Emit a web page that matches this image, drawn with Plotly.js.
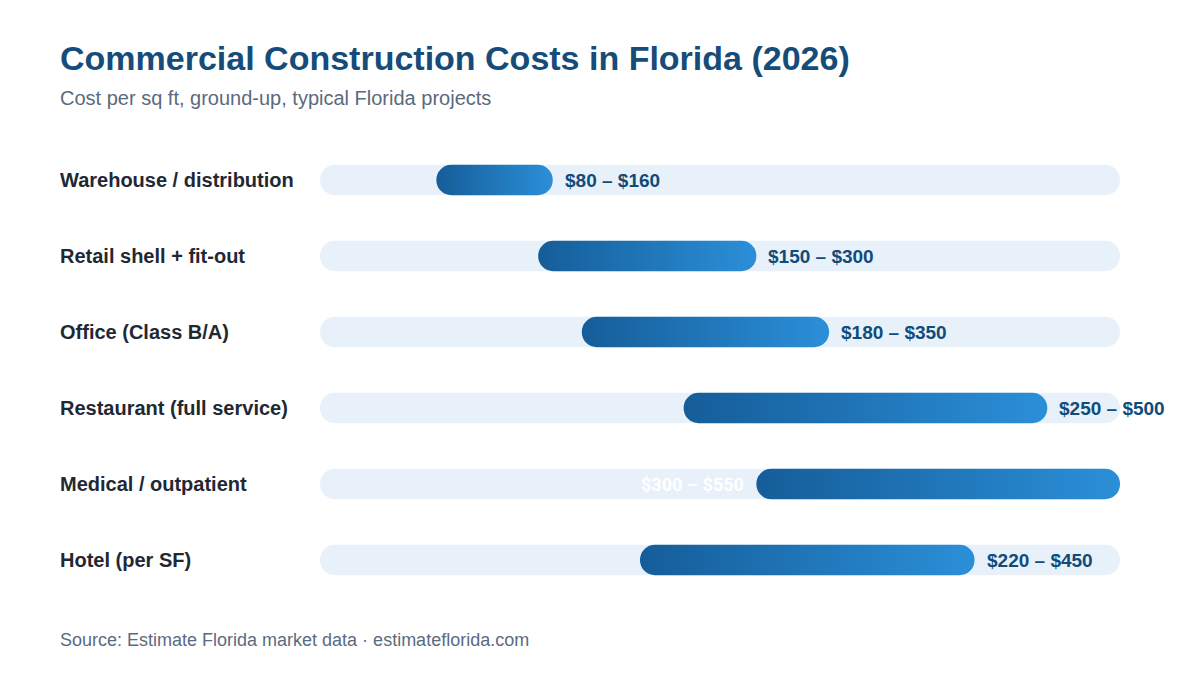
<!DOCTYPE html>
<html>
<head>
<meta charset="utf-8">
<script src="https://cdn.plot.ly/plotly-3.0.1.min.js"></script>
<style>
html,body{margin:0;padding:0;background:#fff;}
#chart{width:1200px;height:676px;}
</style>
</head>
<body>
<div id="chart"></div>
<script>
const categories = ["Warehouse / distribution","Retail shell + fit-out","Office (Class B/A)","Restaurant (full service)","Medical / outpatient","Hotel (per SF)"];
const lowCost = [80,150,180,250,300,220];
const highCost = [160,300,350,500,550,450];
const axisMax = 550;

const FONT = "Liberation Sans, Arial, Helvetica, sans-serif";
const LEFTX = -0.3275;

const track = {
  type:'bar', orientation:'h', y:categories, x:categories.map(()=>axisMax), base:categories.map(()=>0),
  marker:{color:'#e8f1fa'}, width:0.4, hoverinfo:'skip', showlegend:false
};
const bars = {
  type:'bar', orientation:'h', y:categories,
  x:highCost.map((h,i)=>h-lowCost[i]), base:lowCost,
  marker:{color:'#2277bb'}, width:0.4, hoverinfo:'skip', showlegend:false
};

const annotations = [];
categories.forEach((c,i)=>{
  annotations.push({xref:'paper', yref:'y', x:LEFTX, y:c, xanchor:'left', yanchor:'middle', showarrow:false,
    text:'<b>'+c+'</b>', font:{family:FONT, size:20, color:'#1f2933'}});
  const label = '$'+lowCost[i]+' – $'+highCost[i];
  if (highCost[i] >= axisMax) {
    annotations.push({xref:'x', yref:'y', x:lowCost[i], y:c, xanchor:'right', yanchor:'middle', xshift:-10, showarrow:false,
      text:'<b>'+label+'</b>', font:{family:'Roboto, '+FONT, size:18, color:'#ffffff'}});
  } else {
    annotations.push({xref:'x', yref:'y', x:highCost[i], y:c, xanchor:'left', yanchor:'middle', xshift:10, showarrow:false,
      text:'<b>'+label+'</b>', font:{family:FONT, size:19, color:'#0f4c7a'}});
  }
});
annotations.push({xref:'paper', yref:'paper', x:LEFTX, y:(598-98)/456, xanchor:'left', yanchor:'middle', showarrow:false,
  text:'Cost per sq ft, ground-up, typical Florida projects', font:{family:FONT, size:20, color:'#5a6a7e'}});
annotations.push({xref:'paper', yref:'paper', x:LEFTX, y:-(640-598)/456, xanchor:'left', yanchor:'middle', showarrow:false,
  text:'Source: Estimate Florida market data · estimateflorida.com', font:{family:FONT, size:18, color:'#5b6b7f'}});

const layout = {
  width:1200, height:676,
  margin:{l:320, r:80, t:142, b:78},
  paper_bgcolor:'#ffffff', plot_bgcolor:'#ffffff',
  barmode:'overlay', barcornerradius:15,
  title:{text:'<b>Commercial Construction Costs in Florida (2026)</b>', x:0.05, xref:'container', xanchor:'left',
    y:1-58/676, yref:'container', yanchor:'middle', font:{family:FONT, size:34, color:'#154c79'}},
  xaxis:{range:[0,axisMax], visible:false, fixedrange:true},
  yaxis:{autorange:'reversed', showticklabels:false, showgrid:false, zeroline:false, showline:false, ticks:''},
  annotations:annotations,
  showlegend:false
};

Plotly.newPlot('chart',[track,bars],layout,{displayModeBar:false, staticPlot:true}).then(gd=>{
  const svg = gd.querySelector('.main-svg');
  const NS='http://www.w3.org/2000/svg';
  let defs = svg.querySelector('defs');
  if(!defs){defs=document.createElementNS(NS,'defs');svg.insertBefore(defs,svg.firstChild);}
  const lg=document.createElementNS(NS,'linearGradient');
  lg.setAttribute('id','barGrad');lg.setAttribute('x1','0');lg.setAttribute('y1','0');lg.setAttribute('x2','1');lg.setAttribute('y2','0');
  [['0','#155d99'],['1','#2b8fd8']].forEach(([o,c])=>{const s=document.createElementNS(NS,'stop');s.setAttribute('offset',o);s.setAttribute('stop-color',c);lg.appendChild(s);});
  defs.appendChild(lg);
  const traces = gd.querySelectorAll('.barlayer .trace');
  if(traces.length>1){
    traces[1].querySelectorAll('path').forEach(p=>{p.style.fill='url(#barGrad)';});
  }
});
</script>
</body>
</html>
